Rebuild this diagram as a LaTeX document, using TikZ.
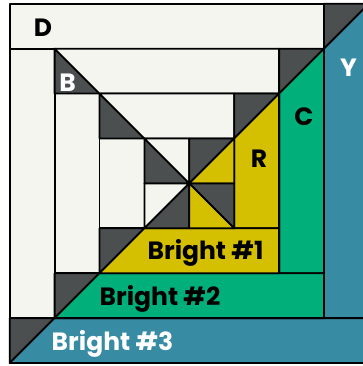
\documentclass[tikz,border=0pt]{standalone}
\usepackage{fontspec}
\setmainfont{Poppins}
\definecolor{cream}{HTML}{F5F5F0}
\definecolor{dk}{HTML}{4B4F50}
\definecolor{yel}{HTML}{D4BF00}
\definecolor{grn}{HTML}{00AF7A}
\definecolor{blu}{HTML}{378BA2}
\tikzset{
  pc/.style={draw=black, line width=1.8pt, line join=round},
  lbl/.style={font=\fontsize{25}{25}\selectfont\bfseries, inner sep=0pt, anchor=base},
  lblw/.style={lbl, text=white},
}
\begin{document}
\begin{tikzpicture}[x=1pt,y=-1pt]
\useasboundingbox (0,0) rectangle (363,366);
\fill[white] (0,0) rectangle (363,366);
\begin{scope}
\clip (0,0) rectangle (363,366);
\begin{scope}[shift={(9.7,3.8)}, x=44.9pt, y=-44.9pt]
% round 3
\filldraw[pc, fill=cream] (0,0) rectangle (7,1);
\filldraw[pc, fill=cream] (0,1) rectangle (1,7);
\filldraw[pc, fill=dk] (7,0) -- (8.3,0) -- (8.3,-0.3) -- (7,1) -- cycle;
\filldraw[pc, fill=blu] (8.3,-0.3) -- (8.3,7) -- (7,7) -- (7,1) -- cycle;
\filldraw[pc, fill=dk] (0,7) -- (1,7) -- (0,8) -- cycle;
\filldraw[pc, fill=blu] (0,8) -- (1,7) -- (8.3,7) -- (8.3,8) -- cycle;
% round 2
\filldraw[pc, fill=cream] (1,2) rectangle (2,6);
\filldraw[pc, fill=dk] (1,1) -- (2,2) -- (1,2) -- cycle;
\filldraw[pc, fill=cream] (1,1) -- (6,1) -- (6,2) -- (2,2) -- cycle;
\filldraw[pc, fill=dk] (6,1) -- (7,1) -- (6,2) -- cycle;
\filldraw[pc, fill=grn] (7,1) -- (7,6) -- (6,6) -- (6,2) -- cycle;
\filldraw[pc, fill=dk] (1,6) -- (2,6) -- (1,7) -- cycle;
\filldraw[pc, fill=grn] (1,7) -- (2,6) -- (7,6) -- (7,7) -- cycle;
% round 1
\filldraw[pc, fill=cream] (2,3) rectangle (3,5);
\filldraw[pc, fill=dk] (2,2) -- (3,3) -- (2,3) -- cycle;
\filldraw[pc, fill=cream] (2,2) -- (5,2) -- (5,3) -- (3,3) -- cycle;
\filldraw[pc, fill=dk] (5,2) -- (6,2) -- (5,3) -- cycle;
\filldraw[pc, fill=yel] (6,2) -- (6,5) -- (5,5) -- (5,3) -- cycle;
\filldraw[pc, fill=dk] (2,5) -- (3,5) -- (2,6) -- cycle;
\filldraw[pc, fill=yel] (2,6) -- (3,5) -- (6,5) -- (6,6) -- cycle;
% centre
\filldraw[pc, fill=dk] (3,3) -- (4,4) -- (3,4) -- cycle;
\filldraw[pc, fill=cream] (3,3) -- (4,3) -- (4,4) -- cycle;
\filldraw[pc, fill=dk] (4,3) -- (5,3) -- (4,4) -- cycle;
\filldraw[pc, fill=yel] (5,3) -- (5,4) -- (4,4) -- cycle;
\filldraw[pc, fill=cream] (3,4) -- (4,4) -- (3,5) -- cycle;
\filldraw[pc, fill=dk] (4,4) -- (4,5) -- (3,5) -- cycle;
\filldraw[pc, fill=dk] (4,4) -- (5,4) -- (5,5) -- cycle;
\filldraw[pc, fill=yel] (4,4) -- (5,5) -- (4,5) -- cycle;
\end{scope}
\end{scope}
% labels
\node[lbl] (d) at (43,37) {D};
\node[lblw] (b) at (67.5,92) {B};
\node[lblw] (y) at (348.5,77) {Y};
\node[lbl] (c) at (304,126) {C};
\node[lbl] (r) at (259,167) {R};
\node[lbl] (b1) at (205.5,259) {Bright \#1};
\node[lbl] (b2) at (160,305) {Bright \#2};
\node[lblw] (b3) at (112.5,350.5) {Bright \#3};
\end{tikzpicture}
\end{document}
